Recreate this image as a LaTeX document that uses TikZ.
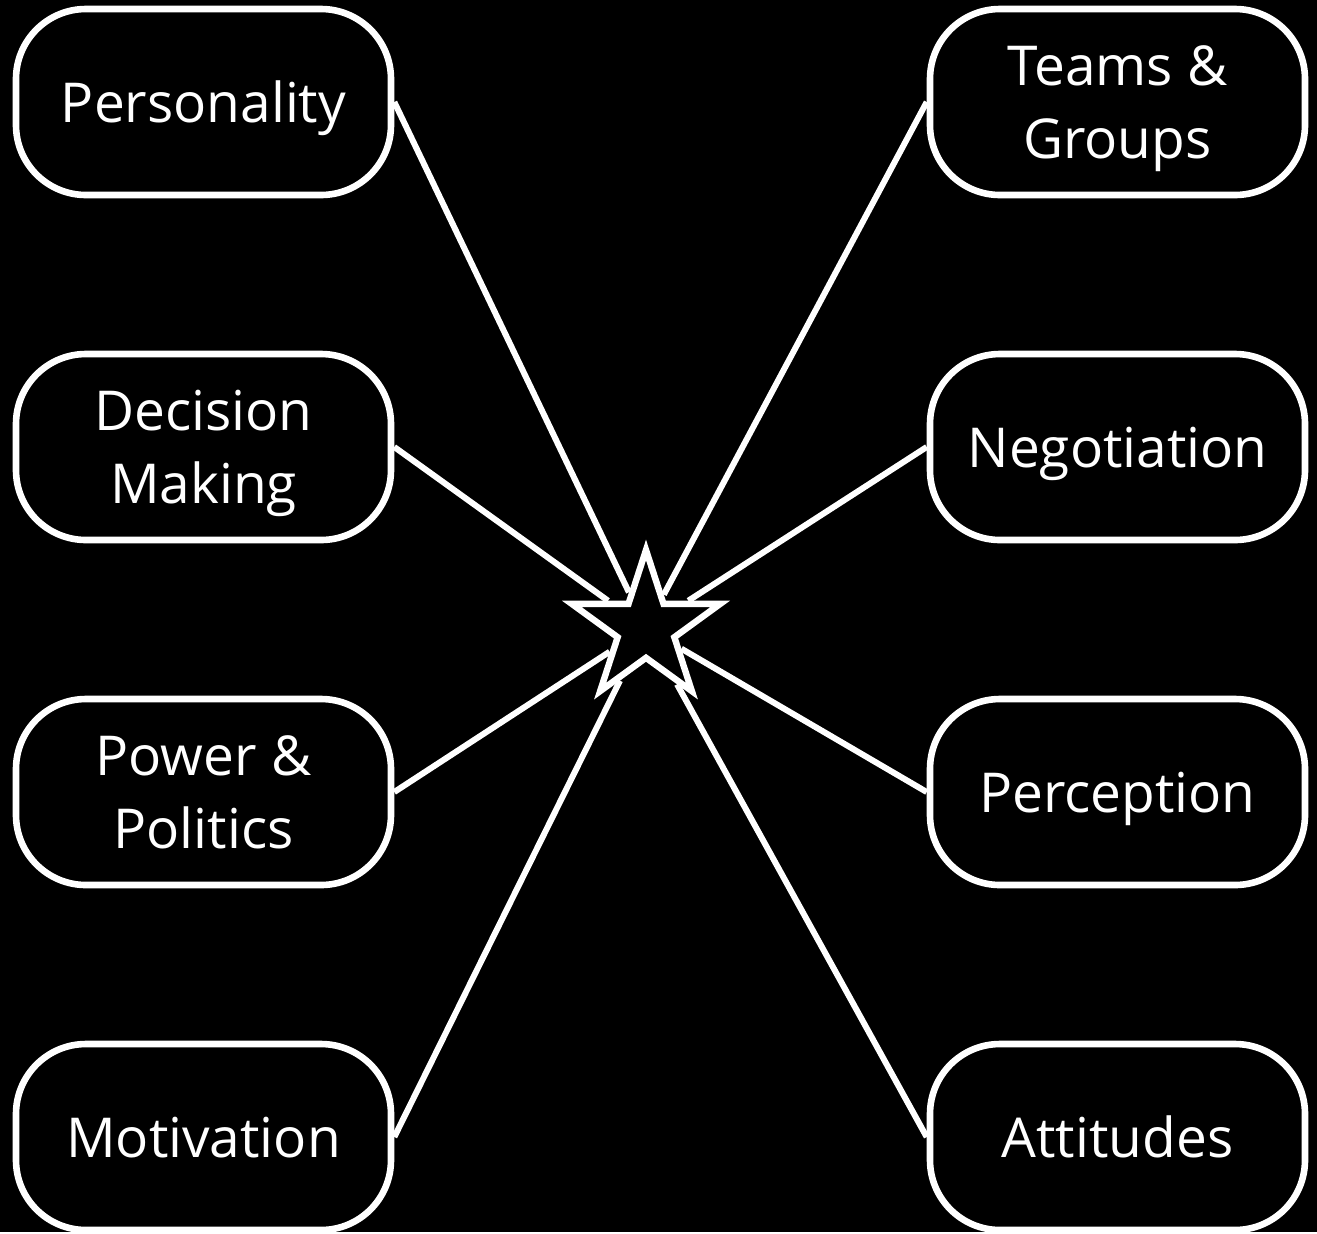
\documentclass[tikz,border=0pt]{standalone}
\usepackage{fontspec}
\setmainfont{Open Sans}
\usetikzlibrary{shapes.geometric}

\tikzset{
  topic/.style={draw=white, line width=3.3pt, rounded corners=35pt,
    minimum width=187.5pt, minimum height=93pt, text=white, align=center,
    text depth=0pt, font=\fontsize{27.5}{36.5}\selectfont},
  link/.style={draw=white, line width=3pt},
}

\begin{document}
\begin{tikzpicture}[x=0.5pt,y=-0.5pt]
    \fill[black] (0,0) rectangle (1317,1232);
    \node[star, star points=5, star point ratio=2.618, draw=white, line width=3.2pt,
      minimum size=78pt, inner sep=0pt] (core) at (646,628) {};
    % left column
    \node[topic] (pers) at (203.5,102) {Personality};
    \node[topic] (deci) at (203.5,447) {Decision\\Making};
    \node[topic] (powr) at (203.5,792) {Power \&\\Politics};
    \node[topic] (moti) at (203.5,1137) {Motivation};
    % right column
    \node[topic] (team) at (1117.5,102) {Teams \&\\Groups};
    \node[topic] (nego) at (1117.5,447) {Negotiation};
    \node[topic] (perc) at (1117.5,792) {Perception};
    \node[topic] (atti) at (1117.5,1137) {Attitudes};
    \foreach \n in {pers,deci,powr,moti}
      \draw[link] (\n.east) -- (core);
    \foreach \n in {team,nego,perc,atti}
      \draw[link] (\n.west) -- (core);
\end{tikzpicture}
\end{document}
